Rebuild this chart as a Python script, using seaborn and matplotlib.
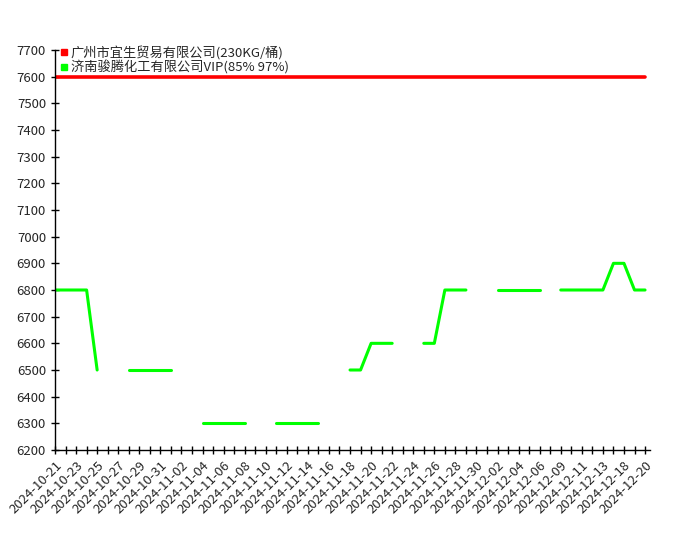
import matplotlib
matplotlib.use('Agg')
import matplotlib.pyplot as plt
import numpy as np
import pandas as pd
import seaborn as sns
from matplotlib.lines import Line2D

dates = ['2024-10-21', '2024-10-22', '2024-10-23', '2024-10-24', '2024-10-25', '2024-10-26',
         '2024-10-27', '2024-10-28', '2024-10-29', '2024-10-30', '2024-10-31', '2024-11-01',
         '2024-11-02', '2024-11-03', '2024-11-04', '2024-11-05', '2024-11-06', '2024-11-07',
         '2024-11-08', '2024-11-09', '2024-11-10', '2024-11-11', '2024-11-12', '2024-11-13',
         '2024-11-14', '2024-11-15', '2024-11-16', '2024-11-17', '2024-11-18', '2024-11-19',
         '2024-11-20', '2024-11-21', '2024-11-22', '2024-11-23', '2024-11-24', '2024-11-25',
         '2024-11-26', '2024-11-27', '2024-11-28', '2024-11-29', '2024-11-30', '2024-12-01',
         '2024-12-02', '2024-12-03', '2024-12-04', '2024-12-05', '2024-12-06', '2024-12-08',
         '2024-12-09', '2024-12-10', '2024-12-11', '2024-12-12', '2024-12-13', '2024-12-17',
         '2024-12-18', '2024-12-19', '2024-12-20']

red_name = '广州市宜生贸易有限公司(230KG/桶)'
green_name = '济南骏腾化工有限公司VIP(85% 97%)'

red_price = [7600] * len(dates)
nan = np.nan
green_price = [6800, 6800, 6800, 6800, 6500, nan, nan, 6500, 6500, 6500, 6500, 6500,
               nan, nan, 6300, 6300, 6300, 6300, 6300, nan, nan, 6300, 6300, 6300,
               6300, 6300, nan, nan, 6500, 6500, 6600, 6600, 6600, nan, nan, 6600,
               6600, 6800, 6800, 6800, nan, nan, 6800, 6800, 6800, 6800, 6800, nan,
               6800, 6800, 6800, 6800, 6800, 6900, 6900, 6800, 6800]

sns.set_style('white')
plt.rcParams['font.family'] = ['Noto Sans CJK SC', 'DejaVu Sans']

# split green series into runs so gaps stay open
g = pd.DataFrame({'idx': range(len(dates)), 'price': green_price})
g['seg'] = g['price'].isna().cumsum()
g = g.dropna()
r = pd.DataFrame({'idx': range(len(dates)), 'price': red_price})

fig = plt.figure(figsize=(7, 5.5), dpi=100)
ax = fig.add_axes([55 / 700, 100 / 550, 595 / 700, 400 / 550])

sns.lineplot(data=r, x='idx', y='price', color='#ff0000', linewidth=2.6, ax=ax)
sns.lineplot(data=g, x='idx', y='price', units='seg', estimator=None,
             color='#00ff00', linewidth=2.2, ax=ax)

ax.set_xlim(0, len(dates) - 1 + 0.47)
ax.set_ylim(6200, 7700)
ax.set_yticks(range(6200, 7701, 100))
ax.set_xticks(range(len(dates)))
ax.set_xticklabels([d if i % 2 == 0 else '' for i, d in enumerate(dates)],
                   rotation=45, ha='right', rotation_mode='anchor', fontsize=9.5)
ax.tick_params(axis='y', labelsize=9.5)
ax.tick_params(direction='inout', length=6, width=1, color='black', left=True, bottom=True)
ax.set_xlabel('')
ax.set_ylabel('')
for s in ['top', 'right']:
    ax.spines[s].set_visible(False)
for s in ['left', 'bottom']:
    ax.spines[s].set_color('black')
    ax.spines[s].set_linewidth(1)

handles = [Line2D([], [], marker='s', linestyle='', color='#ff0000', markersize=4),
           Line2D([], [], marker='s', linestyle='', color='#00ff00', markersize=4)]
ax.legend(handles, [red_name, green_name], loc='upper left', frameon=False,
          fontsize=9.5, handlelength=0.5, handletextpad=0.25, labelspacing=0.05,
          borderaxespad=0.0, borderpad=0.0, bbox_to_anchor=(0.01, 1.01))

fig.savefig('out.png', dpi=100)
